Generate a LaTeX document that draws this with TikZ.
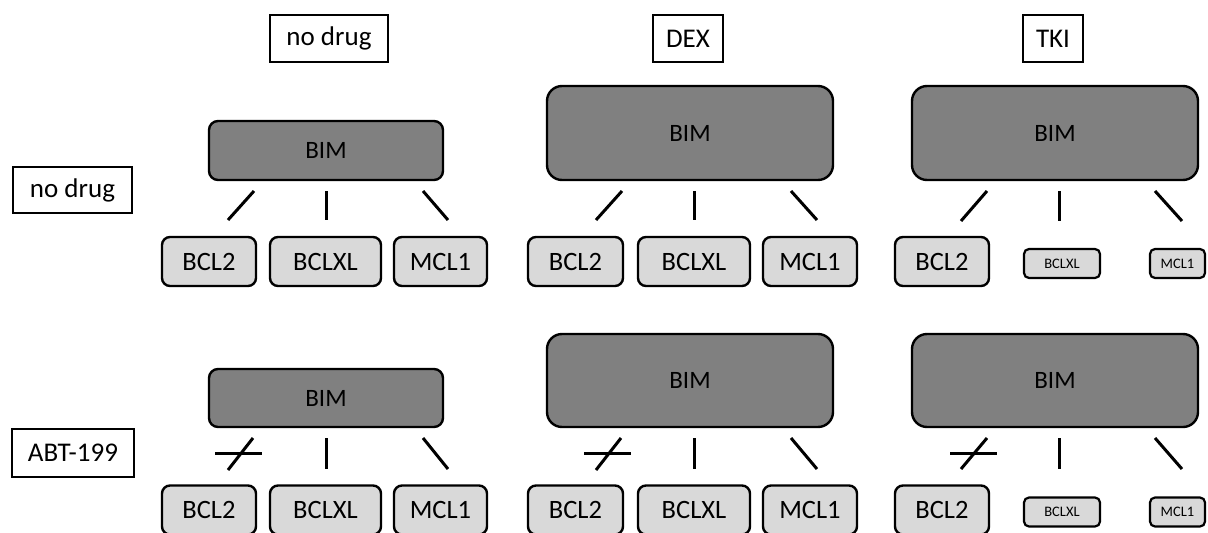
\documentclass[tikz,border=0pt]{standalone}
\usepackage{fontspec}
\setmainfont{Carlito}
\definecolor{bimgray}{RGB}{128,128,128}
\definecolor{boxgray}{RGB}{217,217,217}
\tikzset{
  lab/.style={draw, line width=2.6pt, fill=white, inner sep=0pt, font=\fontsize{27}{32}\selectfont},
  bimbox/.style={draw, line width=2.4pt, fill=bimgray, rounded corners=9pt, inner sep=0pt, font=\fontsize{25}{30}\selectfont},
  bigbim/.style={bimbox, rounded corners=15pt},
  prot/.style={draw, line width=2.4pt, fill=boxgray, rounded corners=8pt, inner sep=0pt, minimum height=49pt, font=\fontsize{26.5}{31}\selectfont},
  smallprot/.style={draw, line width=2.2pt, fill=boxgray, rounded corners=5pt, inner sep=0pt, minimum height=29pt, font=\fontsize{14.5}{17}\selectfont},
  bond/.style={line width=3pt},
}
\begin{document}
\begin{tikzpicture}[x=1pt,y=-1pt]
\useasboundingbox (0,0) rectangle (1208,533);
\clip (0,0) rectangle (1208,533);
% column labels
\node[lab, minimum width=118pt, minimum height=47pt] (cnd) at (329,38.5) {no drug};
\node[lab, minimum width=70pt, minimum height=47pt] (cdex) at (688,38.5) {DEX};
\node[lab, minimum width=60pt, minimum height=47pt] (ctki) at (1053,38.5) {TKI};
% row labels
\node[lab, minimum width=119pt, minimum height=46pt] (rnd) at (72.5,190) {no drug};
\node[lab, minimum width=122pt, minimum height=48pt] (rabt) at (73,453) {ABT-199};

% ---------- row 1 ----------
% col 1
\node[bimbox, minimum width=234pt, minimum height=59pt] (bimA1) at (326,150.5) {BIM};
\node[prot, minimum width=94pt] (bclA1) at (209,261.5) {BCL2};
\node[prot, minimum width=111pt] (bxlA1) at (325.5,261.5) {BCLXL};
\node[prot, minimum width=93pt] (mclA1) at (440.5,261.5) {MCL1};
% col 2
\node[bigbim, minimum width=286pt, minimum height=94pt] (bimB1) at (690,133) {BIM};
\node[prot, minimum width=95pt] (bclB1) at (575.5,261.5) {BCL2};
\node[prot, minimum width=112pt] (bxlB1) at (694,261.5) {BCLXL};
\node[prot, minimum width=94pt] (mclB1) at (810,261.5) {MCL1};
% col 3
\node[bigbim, minimum width=286pt, minimum height=94pt] (bimC1) at (1055,133) {BIM};
\node[prot, minimum width=94pt] (bclC1) at (942,261.5) {BCL2};
\node[smallprot, minimum width=76pt] (bxlC1) at (1062,263.5) {BCLXL};
\node[smallprot, minimum width=55pt] (mclC1) at (1177.5,263.5) {MCL1};

% ---------- row 2 ----------
% col 1
\node[bimbox, minimum width=234pt, minimum height=58pt] (bimA2) at (326,398) {BIM};
\node[prot, minimum width=94pt] (bclA2) at (209,510) {BCL2};
\node[prot, minimum width=111pt] (bxlA2) at (325.5,510) {BCLXL};
\node[prot, minimum width=93pt] (mclA2) at (440.5,510) {MCL1};
% col 2
\node[bigbim, minimum width=286pt, minimum height=93pt] (bimB2) at (690,380.5) {BIM};
\node[prot, minimum width=95pt] (bclB2) at (575.5,510) {BCL2};
\node[prot, minimum width=112pt] (bxlB2) at (694,510) {BCLXL};
\node[prot, minimum width=94pt] (mclB2) at (810,510) {MCL1};
% col 3
\node[bigbim, minimum width=286pt, minimum height=93pt] (bimC2) at (1055,380.5) {BIM};
\node[prot, minimum width=94pt] (bclC2) at (942,510) {BCL2};
\node[smallprot, minimum width=76pt] (bxlC2) at (1062,512) {BCLXL};
\node[smallprot, minimum width=55pt] (mclC2) at (1177.5,512) {MCL1};

% ---------- bond end points ----------
% row 1
\coordinate (a1s) at (254,191); \coordinate (a1e) at (228,220);
\coordinate (a2s) at (326,191); \coordinate (a2e) at (326,220);
\coordinate (a3s) at (423,191); \coordinate (a3e) at (448,220);
\coordinate (b1s) at (622,191); \coordinate (b1e) at (596,220);
\coordinate (b2s) at (694,191); \coordinate (b2e) at (694,220);
\coordinate (b3s) at (791,191); \coordinate (b3e) at (817,220);
\coordinate (c1s) at (987,191); \coordinate (c1e) at (961,221);
\coordinate (c2s) at (1059,191); \coordinate (c2e) at (1059,221);
\coordinate (c3s) at (1155,191); \coordinate (c3e) at (1182,221);
% row 2
\coordinate (d1s) at (253,438); \coordinate (d1e) at (228,470);
\coordinate (d2s) at (326,438); \coordinate (d2e) at (326,469);
\coordinate (d3s) at (423,438); \coordinate (d3e) at (448,469);
\coordinate (e1s) at (621,438); \coordinate (e1e) at (596,470);
\coordinate (e2s) at (694,438); \coordinate (e2e) at (694,469);
\coordinate (e3s) at (791,438); \coordinate (e3e) at (817,469);
\coordinate (f1s) at (987,438); \coordinate (f1e) at (961,469);
\coordinate (f2s) at (1059,438); \coordinate (f2e) at (1059,469);
\coordinate (f3s) at (1155,438); \coordinate (f3e) at (1182,469);
% cross bars
\coordinate (dxs) at (215,453); \coordinate (dxe) at (262,453);
\coordinate (exs) at (584,453); \coordinate (exe) at (631,453);
\coordinate (fxs) at (950,453); \coordinate (fxe) at (997,453);

\foreach \p in {a1,a2,a3,b1,b2,b3,c1,c2,c3,d1,d2,d3,e1,e2,e3,f1,f2,f3,dx,ex,fx}
  \draw[bond] (\p s) -- (\p e);
\end{tikzpicture}
\end{document}
